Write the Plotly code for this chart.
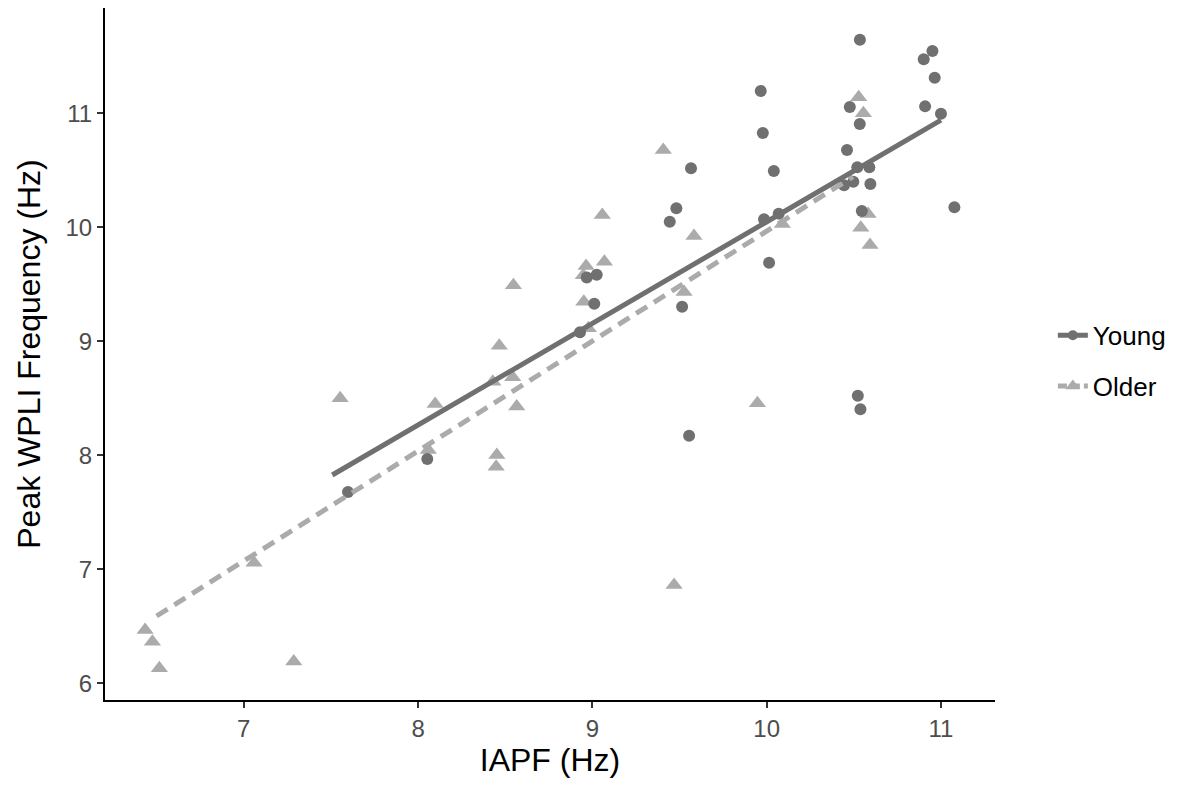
import plotly.graph_objects as go

# ---- data ----
young_x = [10.535, 10.951, 10.901, 10.964, 10.909, 11.0, 9.966, 9.978, 10.477, 10.534,
           10.461, 9.566, 10.041, 10.520, 10.589, 10.444, 10.497, 10.595, 11.077, 10.546,
           9.482, 9.444, 9.985, 10.069, 10.014, 9.025, 8.968, 9.011, 9.515, 8.929,
           10.523, 10.538, 9.555, 7.598, 8.053]
young_y = [11.646, 11.546, 11.474, 11.312, 11.061, 10.997, 11.196, 10.827, 11.055, 10.906,
           10.678, 10.518, 10.494, 10.526, 10.526, 10.368, 10.400, 10.380, 10.175, 10.143,
           10.167, 10.049, 10.070, 10.120, 9.690, 9.584, 9.560, 9.330, 9.304, 9.079,
           8.523, 8.403, 8.172, 7.678, 7.968]

older_x = [8.547, 8.466, 9.407, 10.528, 10.555, 9.057, 9.583, 10.582, 10.540, 10.593,
           10.090, 8.964, 9.069, 8.948, 8.951, 9.526, 8.977, 7.553, 8.098, 8.543,
           8.429, 8.566, 8.452, 8.448, 8.059, 7.059, 6.434, 6.476, 6.516, 7.287,
           9.947, 9.469]
older_y = [9.491, 8.960, 10.678, 11.140, 11.000, 10.108, 9.924, 10.117, 9.997, 9.845,
           10.030, 9.661, 9.698, 9.579, 9.347, 9.432, 9.114, 8.500, 8.450, 8.684,
           8.646, 8.427, 8.003, 7.900, 8.046, 7.058, 6.468, 6.365, 6.132, 6.190,
           8.456, 6.862]

# fitted regression lines (endpoints)
young_fit_x = [7.508, 11.0]
young_fit_y = [7.827, 10.94]
older_fit_x = [6.50, 10.495]
older_fit_y = [6.59, 10.444]

x_ticks = [7, 8, 9, 10, 11]
y_ticks = [6, 7, 8, 9, 10, 11]

young_col = "#707070"
older_col = "#ababab"
FONT = "Liberation Sans, Arial, Helvetica, sans-serif"

fig = go.Figure()

fig.add_trace(go.Scatter(x=older_x, y=older_y, mode="markers", showlegend=False,
                         marker=dict(symbol="triangle-up", size=15, color=older_col)))
fig.add_trace(go.Scatter(x=young_x, y=young_y, mode="markers", showlegend=False,
                         marker=dict(symbol="circle", size=12, color=young_col)))
fig.add_trace(go.Scatter(x=older_fit_x, y=older_fit_y, mode="lines", showlegend=False,
                         line=dict(color=older_col, width=5, dash="13px,8px")))
fig.add_trace(go.Scatter(x=young_fit_x, y=young_fit_y, mode="lines", showlegend=False,
                         line=dict(color=young_col, width=5)))

# legend-only entries
fig.add_trace(go.Scatter(x=[None], y=[None], mode="lines+markers", name="Young",
                         legendgroup="y",
                         line=dict(color=young_col, width=5),
                         marker=dict(symbol="circle", size=10, color=young_col)))
fig.add_trace(go.Scatter(x=[None], y=[None], mode="lines+markers", name="Older",
                         legendgroup="o",
                         line=dict(color=older_col, width=5, dash="9px,4px"),
                         marker=dict(symbol="triangle-up", size=13, color=older_col)))

axis_common = dict(showgrid=False, zeroline=False, showline=True, linecolor="black",
                   linewidth=2, ticks="outside", ticklen=6, tickwidth=2,
                   tickcolor="#333333", tickfont=dict(size=24, color="#4d4d4d", family=FONT))

fig.update_layout(
    width=1176, height=781,
    margin=dict(l=97, r=189, t=0, b=89),
    paper_bgcolor="white", plot_bgcolor="white",
    font=dict(family=FONT, color="black"),
    xaxis=dict(range=[6.204, 11.31], tickvals=x_ticks,
               title=dict(text="IAPF (Hz)", font=dict(size=32, family=FONT), standoff=6),
               **axis_common),
    yaxis=dict(range=[5.853, 11.924], tickvals=y_ticks,
               title=dict(text="Peak WPLI Frequency (Hz)", font=dict(size=32, family=FONT), standoff=15),
               **axis_common),
    legend=dict(x=1.065, y=0.49, xanchor="left", yanchor="middle",
                font=dict(size=26, family=FONT), tracegroupgap=14,
                bgcolor="rgba(0,0,0,0)"),
)

fig.write_html("out.html")
